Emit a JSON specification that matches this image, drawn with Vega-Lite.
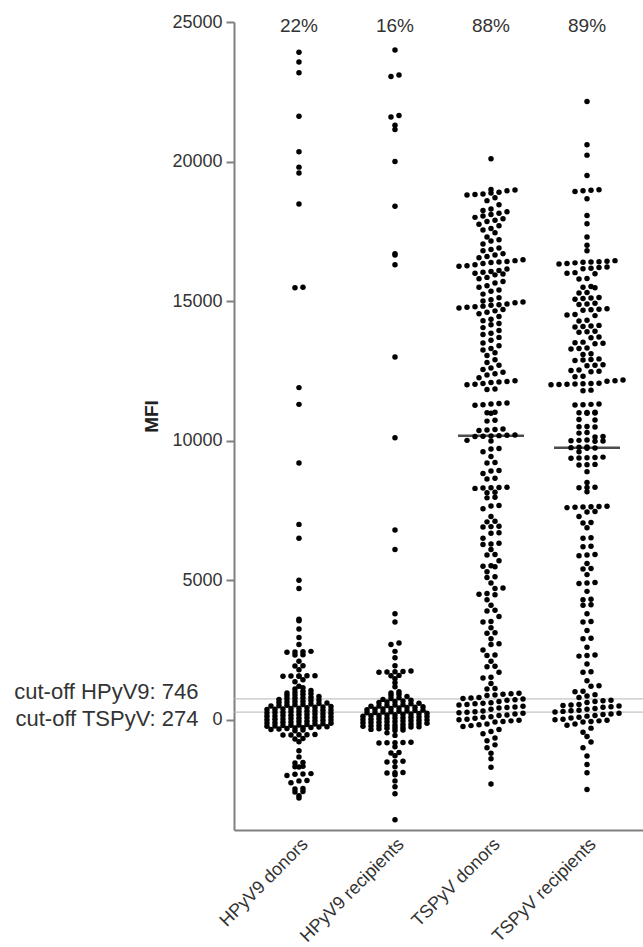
{
"$schema": "https://vega.github.io/schema/vega-lite/v6.json",
"width": 409,
"height": 808,
"autosize": {"type": "none"},
"padding": {"left": 234, "top": 22, "right": 0, "bottom": 117},
"config": {"view": {"stroke": null}, "font": "Liberation Sans", "axis": {"grid": false}},
"datasets": {
"points": [
{"g":"HPyV9 donors","v":23920},{"g":"HPyV9 donors","v":23570},{"g":"HPyV9 donors","v":23180},{"g":"HPyV9 donors","v":21620},{"g":"HPyV9 donors","v":20350},{"g":"HPyV9 donors","v":19800},{"g":"HPyV9 donors","v":19590},{"g":"HPyV9 donors","v":18480},{"g":"HPyV9 donors","v":15500},{"g":"HPyV9 donors","v":15480},{"g":"HPyV9 donors","v":11900},{"g":"HPyV9 donors","v":11300},{"g":"HPyV9 donors","v":9200},{"g":"HPyV9 donors","v":7000},{"g":"HPyV9 donors","v":6500},{"g":"HPyV9 donors","v":5000},{"g":"HPyV9 donors","v":4700},
{"g":"HPyV9 donors","v":3600},{"g":"HPyV9 donors","v":3550},{"g":"HPyV9 donors","v":3250},{"g":"HPyV9 donors","v":2950},{"g":"HPyV9 donors","v":2700},{"g":"HPyV9 donors","v":2450},{"g":"HPyV9 donors","v":2440},{"g":"HPyV9 donors","v":2430},{"g":"HPyV9 donors","v":2420},{"g":"HPyV9 donors","v":2330},{"g":"HPyV9 donors","v":2320},{"g":"HPyV9 donors","v":2100},{"g":"HPyV9 donors","v":1935},{"g":"HPyV9 donors","v":1930},{"g":"HPyV9 donors","v":1790},{"g":"HPyV9 donors","v":1580},{"g":"HPyV9 donors","v":1575},{"g":"HPyV9 donors","v":1570},{"g":"HPyV9 donors","v":1565},{"g":"HPyV9 donors","v":1560},{"g":"HPyV9 donors","v":1555},{"g":"HPyV9 donors","v":1430},{"g":"HPyV9 donors","v":1360},{"g":"HPyV9 donors","v":1200},{"g":"HPyV9 donors","v":1150},{"g":"HPyV9 donors","v":1100},{"g":"HPyV9 donors","v":1050},
{"g":"HPyV9 donors","v":1020},{"g":"HPyV9 donors","v":990},{"g":"HPyV9 donors","v":960},{"g":"HPyV9 donors","v":930},
{"g":"HPyV9 donors","v":910},{"g":"HPyV9 donors","v":885},{"g":"HPyV9 donors","v":860},{"g":"HPyV9 donors","v":835},{"g":"HPyV9 donors","v":810},
{"g":"HPyV9 donors","v":790},{"g":"HPyV9 donors","v":770},{"g":"HPyV9 donors","v":750},{"g":"HPyV9 donors","v":730},{"g":"HPyV9 donors","v":710},{"g":"HPyV9 donors","v":690},
{"g":"HPyV9 donors","v":667},{"g":"HPyV9 donors","v":650},{"g":"HPyV9 donors","v":633},{"g":"HPyV9 donors","v":616},{"g":"HPyV9 donors","v":599},{"g":"HPyV9 donors","v":582},{"g":"HPyV9 donors","v":565},
{"g":"HPyV9 donors","v":550},{"g":"HPyV9 donors","v":535},{"g":"HPyV9 donors","v":520},{"g":"HPyV9 donors","v":505},{"g":"HPyV9 donors","v":490},{"g":"HPyV9 donors","v":475},{"g":"HPyV9 donors","v":460},{"g":"HPyV9 donors","v":445},
{"g":"HPyV9 donors","v":429},{"g":"HPyV9 donors","v":416},{"g":"HPyV9 donors","v":403},{"g":"HPyV9 donors","v":390},{"g":"HPyV9 donors","v":377},{"g":"HPyV9 donors","v":364},{"g":"HPyV9 donors","v":351},{"g":"HPyV9 donors","v":338},{"g":"HPyV9 donors","v":325},
{"g":"HPyV9 donors","v":309},{"g":"HPyV9 donors","v":296},{"g":"HPyV9 donors","v":283},{"g":"HPyV9 donors","v":270},{"g":"HPyV9 donors","v":257},{"g":"HPyV9 donors","v":244},{"g":"HPyV9 donors","v":231},{"g":"HPyV9 donors","v":218},{"g":"HPyV9 donors","v":205},
{"g":"HPyV9 donors","v":189},{"g":"HPyV9 donors","v":176},{"g":"HPyV9 donors","v":163},{"g":"HPyV9 donors","v":150},{"g":"HPyV9 donors","v":137},{"g":"HPyV9 donors","v":124},{"g":"HPyV9 donors","v":111},{"g":"HPyV9 donors","v":98},{"g":"HPyV9 donors","v":85},
{"g":"HPyV9 donors","v":69},{"g":"HPyV9 donors","v":56},{"g":"HPyV9 donors","v":43},{"g":"HPyV9 donors","v":30},{"g":"HPyV9 donors","v":17},{"g":"HPyV9 donors","v":4},{"g":"HPyV9 donors","v":-9},{"g":"HPyV9 donors","v":-22},{"g":"HPyV9 donors","v":-35},
{"g":"HPyV9 donors","v":-51},{"g":"HPyV9 donors","v":-64},{"g":"HPyV9 donors","v":-77},{"g":"HPyV9 donors","v":-90},{"g":"HPyV9 donors","v":-103},{"g":"HPyV9 donors","v":-116},{"g":"HPyV9 donors","v":-129},{"g":"HPyV9 donors","v":-142},{"g":"HPyV9 donors","v":-155},
{"g":"HPyV9 donors","v":-171},{"g":"HPyV9 donors","v":-184},{"g":"HPyV9 donors","v":-197},{"g":"HPyV9 donors","v":-210},{"g":"HPyV9 donors","v":-223},{"g":"HPyV9 donors","v":-236},{"g":"HPyV9 donors","v":-249},{"g":"HPyV9 donors","v":-262},{"g":"HPyV9 donors","v":-275},
{"g":"HPyV9 donors","v":-285},{"g":"HPyV9 donors","v":-295},{"g":"HPyV9 donors","v":-310},{"g":"HPyV9 donors","v":-330},{"g":"HPyV9 donors","v":-350},{"g":"HPyV9 donors","v":-370},{"g":"HPyV9 donors","v":-390},
{"g":"HPyV9 donors","v":-530},{"g":"HPyV9 donors","v":-535},{"g":"HPyV9 donors","v":-540},{"g":"HPyV9 donors","v":-545},{"g":"HPyV9 donors","v":-550},{"g":"HPyV9 donors","v":-670},{"g":"HPyV9 donors","v":-690},{"g":"HPyV9 donors","v":-790},{"g":"HPyV9 donors","v":-1110},{"g":"HPyV9 donors","v":-1330},{"g":"HPyV9 donors","v":-1530},{"g":"HPyV9 donors","v":-1550},{"g":"HPyV9 donors","v":-1670},{"g":"HPyV9 donors","v":-1680},{"g":"HPyV9 donors","v":-1690},{"g":"HPyV9 donors","v":-1930},{"g":"HPyV9 donors","v":-1940},{"g":"HPyV9 donors","v":-1950},{"g":"HPyV9 donors","v":-2000},{"g":"HPyV9 donors","v":-2180},{"g":"HPyV9 donors","v":-2190},{"g":"HPyV9 donors","v":-2260},{"g":"HPyV9 donors","v":-2460},{"g":"HPyV9 donors","v":-2480},{"g":"HPyV9 donors","v":-2570},{"g":"HPyV9 donors","v":-2590},{"g":"HPyV9 donors","v":-2720},{"g":"HPyV9 donors","v":-2800},
{"g":"HPyV9 recipients","v":24000},{"g":"HPyV9 recipients","v":23100},{"g":"HPyV9 recipients","v":23050},{"g":"HPyV9 recipients","v":21650},{"g":"HPyV9 recipients","v":21600},{"g":"HPyV9 recipients","v":21300},{"g":"HPyV9 recipients","v":21150},{"g":"HPyV9 recipients","v":20000},{"g":"HPyV9 recipients","v":18400},{"g":"HPyV9 recipients","v":16700},{"g":"HPyV9 recipients","v":16650},{"g":"HPyV9 recipients","v":16300},{"g":"HPyV9 recipients","v":13000},{"g":"HPyV9 recipients","v":10100},{"g":"HPyV9 recipients","v":6800},{"g":"HPyV9 recipients","v":6100},{"g":"HPyV9 recipients","v":3800},{"g":"HPyV9 recipients","v":3500},
{"g":"HPyV9 recipients","v":2750},{"g":"HPyV9 recipients","v":2700},{"g":"HPyV9 recipients","v":2450},{"g":"HPyV9 recipients","v":2220},{"g":"HPyV9 recipients","v":1935},{"g":"HPyV9 recipients","v":1745},{"g":"HPyV9 recipients","v":1730},{"g":"HPyV9 recipients","v":1720},{"g":"HPyV9 recipients","v":1710},{"g":"HPyV9 recipients","v":1700},{"g":"HPyV9 recipients","v":1590},{"g":"HPyV9 recipients","v":1580},{"g":"HPyV9 recipients","v":1470},{"g":"HPyV9 recipients","v":1330},{"g":"HPyV9 recipients","v":1180},{"g":"HPyV9 recipients","v":1000},
{"g":"HPyV9 recipients","v":960},{"g":"HPyV9 recipients","v":910},{"g":"HPyV9 recipients","v":870},{"g":"HPyV9 recipients","v":830},
{"g":"HPyV9 recipients","v":790},{"g":"HPyV9 recipients","v":760},{"g":"HPyV9 recipients","v":730},{"g":"HPyV9 recipients","v":700},
{"g":"HPyV9 recipients","v":675},{"g":"HPyV9 recipients","v":655},{"g":"HPyV9 recipients","v":635},{"g":"HPyV9 recipients","v":615},{"g":"HPyV9 recipients","v":595},{"g":"HPyV9 recipients","v":575},
{"g":"HPyV9 recipients","v":540},{"g":"HPyV9 recipients","v":525},{"g":"HPyV9 recipients","v":510},{"g":"HPyV9 recipients","v":495},{"g":"HPyV9 recipients","v":480},{"g":"HPyV9 recipients","v":465},{"g":"HPyV9 recipients","v":450},
{"g":"HPyV9 recipients","v":435},{"g":"HPyV9 recipients","v":420},{"g":"HPyV9 recipients","v":405},{"g":"HPyV9 recipients","v":390},{"g":"HPyV9 recipients","v":375},{"g":"HPyV9 recipients","v":360},{"g":"HPyV9 recipients","v":345},{"g":"HPyV9 recipients","v":330},
{"g":"HPyV9 recipients","v":314},{"g":"HPyV9 recipients","v":301},{"g":"HPyV9 recipients","v":288},{"g":"HPyV9 recipients","v":275},{"g":"HPyV9 recipients","v":262},{"g":"HPyV9 recipients","v":249},{"g":"HPyV9 recipients","v":236},{"g":"HPyV9 recipients","v":223},{"g":"HPyV9 recipients","v":210},
{"g":"HPyV9 recipients","v":194},{"g":"HPyV9 recipients","v":181},{"g":"HPyV9 recipients","v":168},{"g":"HPyV9 recipients","v":155},{"g":"HPyV9 recipients","v":142},{"g":"HPyV9 recipients","v":129},{"g":"HPyV9 recipients","v":116},{"g":"HPyV9 recipients","v":103},{"g":"HPyV9 recipients","v":90},
{"g":"HPyV9 recipients","v":74},{"g":"HPyV9 recipients","v":61},{"g":"HPyV9 recipients","v":48},{"g":"HPyV9 recipients","v":35},{"g":"HPyV9 recipients","v":22},{"g":"HPyV9 recipients","v":9},{"g":"HPyV9 recipients","v":-4},{"g":"HPyV9 recipients","v":-17},{"g":"HPyV9 recipients","v":-30},
{"g":"HPyV9 recipients","v":-46},{"g":"HPyV9 recipients","v":-59},{"g":"HPyV9 recipients","v":-72},{"g":"HPyV9 recipients","v":-85},{"g":"HPyV9 recipients","v":-98},{"g":"HPyV9 recipients","v":-111},{"g":"HPyV9 recipients","v":-124},{"g":"HPyV9 recipients","v":-137},{"g":"HPyV9 recipients","v":-150},
{"g":"HPyV9 recipients","v":-171},{"g":"HPyV9 recipients","v":-184},{"g":"HPyV9 recipients","v":-197},{"g":"HPyV9 recipients","v":-210},{"g":"HPyV9 recipients","v":-223},{"g":"HPyV9 recipients","v":-236},{"g":"HPyV9 recipients","v":-249},{"g":"HPyV9 recipients","v":-262},{"g":"HPyV9 recipients","v":-275},
{"g":"HPyV9 recipients","v":-290},{"g":"HPyV9 recipients","v":-305},{"g":"HPyV9 recipients","v":-325},{"g":"HPyV9 recipients","v":-345},{"g":"HPyV9 recipients","v":-365},{"g":"HPyV9 recipients","v":-385},
{"g":"HPyV9 recipients","v":-470},{"g":"HPyV9 recipients","v":-560},{"g":"HPyV9 recipients","v":-810},{"g":"HPyV9 recipients","v":-815},{"g":"HPyV9 recipients","v":-820},{"g":"HPyV9 recipients","v":-825},{"g":"HPyV9 recipients","v":-830},{"g":"HPyV9 recipients","v":-970},{"g":"HPyV9 recipients","v":-1170},{"g":"HPyV9 recipients","v":-1190},{"g":"HPyV9 recipients","v":-1290},{"g":"HPyV9 recipients","v":-1490},{"g":"HPyV9 recipients","v":-1500},{"g":"HPyV9 recipients","v":-1510},{"g":"HPyV9 recipients","v":-1680},{"g":"HPyV9 recipients","v":-1890},{"g":"HPyV9 recipients","v":-1900},{"g":"HPyV9 recipients","v":-1910},{"g":"HPyV9 recipients","v":-1970},{"g":"HPyV9 recipients","v":-2190},{"g":"HPyV9 recipients","v":-2400},{"g":"HPyV9 recipients","v":-2650},{"g":"HPyV9 recipients","v":-3580},
{"g":"TSPyV donors","v":20100},
{"g":"TSPyV donors","v":19000},{"g":"TSPyV donors","v":18980},{"g":"TSPyV donors","v":18950},{"g":"TSPyV donors","v":18900},{"g":"TSPyV donors","v":18870},{"g":"TSPyV donors","v":18840},{"g":"TSPyV donors","v":18820},{"g":"TSPyV donors","v":18800},
{"g":"TSPyV donors","v":18700},{"g":"TSPyV donors","v":18600},{"g":"TSPyV donors","v":18450},{"g":"TSPyV donors","v":18300},{"g":"TSPyV donors","v":18250},{"g":"TSPyV donors","v":18200},
{"g":"TSPyV donors","v":18150},{"g":"TSPyV donors","v":18100},{"g":"TSPyV donors","v":18050},{"g":"TSPyV donors","v":18000},{"g":"TSPyV donors","v":17950},{"g":"TSPyV donors","v":17900},{"g":"TSPyV donors","v":17850},
{"g":"TSPyV donors","v":17750},{"g":"TSPyV donors","v":17700},{"g":"TSPyV donors","v":17600},{"g":"TSPyV donors","v":17550},{"g":"TSPyV donors","v":17450},{"g":"TSPyV donors","v":17300},{"g":"TSPyV donors","v":17200},{"g":"TSPyV donors","v":17150},{"g":"TSPyV donors","v":17050},
{"g":"TSPyV donors","v":16900},{"g":"TSPyV donors","v":16850},{"g":"TSPyV donors","v":16800},{"g":"TSPyV donors","v":16700},{"g":"TSPyV donors","v":16650},{"g":"TSPyV donors","v":16600},{"g":"TSPyV donors","v":16550},
{"g":"TSPyV donors","v":16480},{"g":"TSPyV donors","v":16450},{"g":"TSPyV donors","v":16420},{"g":"TSPyV donors","v":16400},{"g":"TSPyV donors","v":16380},{"g":"TSPyV donors","v":16350},{"g":"TSPyV donors","v":16300},{"g":"TSPyV donors","v":16270},{"g":"TSPyV donors","v":16250},
{"g":"TSPyV donors","v":16150},{"g":"TSPyV donors","v":16100},{"g":"TSPyV donors","v":16060},{"g":"TSPyV donors","v":16030},{"g":"TSPyV donors","v":16000},{"g":"TSPyV donors","v":15970},{"g":"TSPyV donors","v":15940},
{"g":"TSPyV donors","v":15850},{"g":"TSPyV donors","v":15800},{"g":"TSPyV donors","v":15700},{"g":"TSPyV donors","v":15650},{"g":"TSPyV donors","v":15550},{"g":"TSPyV donors","v":15500},{"g":"TSPyV donors","v":15400},{"g":"TSPyV donors","v":15350},{"g":"TSPyV donors","v":15250},{"g":"TSPyV donors","v":15120},{"g":"TSPyV donors","v":15050},
{"g":"TSPyV donors","v":15000},{"g":"TSPyV donors","v":14970},{"g":"TSPyV donors","v":14940},{"g":"TSPyV donors","v":14900},{"g":"TSPyV donors","v":14870},{"g":"TSPyV donors","v":14850},{"g":"TSPyV donors","v":14820},{"g":"TSPyV donors","v":14800},{"g":"TSPyV donors","v":14780},{"g":"TSPyV donors","v":14750},
{"g":"TSPyV donors","v":14700},{"g":"TSPyV donors","v":14650},{"g":"TSPyV donors","v":14600},{"g":"TSPyV donors","v":14550},{"g":"TSPyV donors","v":14450},{"g":"TSPyV donors","v":14350},{"g":"TSPyV donors","v":14300},
{"g":"TSPyV donors","v":14200},{"g":"TSPyV donors","v":14150},{"g":"TSPyV donors","v":14050},{"g":"TSPyV donors","v":13950},{"g":"TSPyV donors","v":13850},{"g":"TSPyV donors","v":13800},
{"g":"TSPyV donors","v":13700},{"g":"TSPyV donors","v":13600},{"g":"TSPyV donors","v":13500},{"g":"TSPyV donors","v":13400},{"g":"TSPyV donors","v":13300},{"g":"TSPyV donors","v":13250},{"g":"TSPyV donors","v":13150},{"g":"TSPyV donors","v":13050},
{"g":"TSPyV donors","v":12900},{"g":"TSPyV donors","v":12800},{"g":"TSPyV donors","v":12700},{"g":"TSPyV donors","v":12600},{"g":"TSPyV donors","v":12550},{"g":"TSPyV donors","v":12450},{"g":"TSPyV donors","v":12400},{"g":"TSPyV donors","v":12350},{"g":"TSPyV donors","v":12250},
{"g":"TSPyV donors","v":12150},{"g":"TSPyV donors","v":12120},{"g":"TSPyV donors","v":12100},{"g":"TSPyV donors","v":12080},{"g":"TSPyV donors","v":12050},{"g":"TSPyV donors","v":12020},{"g":"TSPyV donors","v":12000},
{"g":"TSPyV donors","v":11850},{"g":"TSPyV donors","v":11830},
{"g":"TSPyV donors","v":11350},{"g":"TSPyV donors","v":11330},{"g":"TSPyV donors","v":11310},{"g":"TSPyV donors","v":11290},{"g":"TSPyV donors","v":11270},
{"g":"TSPyV donors","v":11020},{"g":"TSPyV donors","v":11000},{"g":"TSPyV donors","v":10980},
{"g":"TSPyV donors","v":10730},{"g":"TSPyV donors","v":10700},
{"g":"TSPyV donors","v":10420},{"g":"TSPyV donors","v":10400},{"g":"TSPyV donors","v":10380},{"g":"TSPyV donors","v":10360},
{"g":"TSPyV donors","v":10200},{"g":"TSPyV donors","v":10190},{"g":"TSPyV donors","v":10180},{"g":"TSPyV donors","v":10170},{"g":"TSPyV donors","v":10160},{"g":"TSPyV donors","v":10150},
{"g":"TSPyV donors","v":10010},{"g":"TSPyV donors","v":9990},
{"g":"TSPyV donors","v":9720},{"g":"TSPyV donors","v":9700},{"g":"TSPyV donors","v":9600},{"g":"TSPyV donors","v":9430},
{"g":"TSPyV donors","v":9220},{"g":"TSPyV donors","v":9200},{"g":"TSPyV donors","v":8930},{"g":"TSPyV donors","v":8910},{"g":"TSPyV donors","v":8820},
{"g":"TSPyV donors","v":8650},{"g":"TSPyV donors","v":8630},
{"g":"TSPyV donors","v":8330},{"g":"TSPyV donors","v":8320},{"g":"TSPyV donors","v":8310},{"g":"TSPyV donors","v":8300},{"g":"TSPyV donors","v":8290},
{"g":"TSPyV donors","v":8150},{"g":"TSPyV donors","v":8130},{"g":"TSPyV donors","v":7970},{"g":"TSPyV donors","v":7950},
{"g":"TSPyV donors","v":7680},{"g":"TSPyV donors","v":7660},{"g":"TSPyV donors","v":7560},{"g":"TSPyV donors","v":7280},
{"g":"TSPyV donors","v":7110},{"g":"TSPyV donors","v":7090},{"g":"TSPyV donors","v":6930},{"g":"TSPyV donors","v":6920},{"g":"TSPyV donors","v":6910},
{"g":"TSPyV donors","v":6700},{"g":"TSPyV donors","v":6680},{"g":"TSPyV donors","v":6500},{"g":"TSPyV donors","v":6320},{"g":"TSPyV donors","v":6300},{"g":"TSPyV donors","v":6280},{"g":"TSPyV donors","v":6100},
{"g":"TSPyV donors","v":5920},{"g":"TSPyV donors","v":5900},{"g":"TSPyV donors","v":5700},{"g":"TSPyV donors","v":5520},{"g":"TSPyV donors","v":5500},{"g":"TSPyV donors","v":5480},{"g":"TSPyV donors","v":5300},{"g":"TSPyV donors","v":5120},{"g":"TSPyV donors","v":5100},
{"g":"TSPyV donors","v":4900},{"g":"TSPyV donors","v":4720},{"g":"TSPyV donors","v":4700},{"g":"TSPyV donors","v":4520},{"g":"TSPyV donors","v":4500},{"g":"TSPyV donors","v":4480},{"g":"TSPyV donors","v":4300},{"g":"TSPyV donors","v":4100},
{"g":"TSPyV donors","v":3920},{"g":"TSPyV donors","v":3900},{"g":"TSPyV donors","v":3700},{"g":"TSPyV donors","v":3520},{"g":"TSPyV donors","v":3500},{"g":"TSPyV donors","v":3300},{"g":"TSPyV donors","v":3120},{"g":"TSPyV donors","v":3100},
{"g":"TSPyV donors","v":2900},{"g":"TSPyV donors","v":2720},{"g":"TSPyV donors","v":2700},{"g":"TSPyV donors","v":2500},{"g":"TSPyV donors","v":2320},{"g":"TSPyV donors","v":2300},{"g":"TSPyV donors","v":2100},
{"g":"TSPyV donors","v":1920},{"g":"TSPyV donors","v":1900},{"g":"TSPyV donors","v":1700},{"g":"TSPyV donors","v":1520},{"g":"TSPyV donors","v":1500},{"g":"TSPyV donors","v":1300},{"g":"TSPyV donors","v":1120},{"g":"TSPyV donors","v":1100},
{"g":"TSPyV donors","v":950},{"g":"TSPyV donors","v":930},{"g":"TSPyV donors","v":910},{"g":"TSPyV donors","v":890},{"g":"TSPyV donors","v":870},
{"g":"TSPyV donors","v":800},{"g":"TSPyV donors","v":780},{"g":"TSPyV donors","v":760},{"g":"TSPyV donors","v":740},{"g":"TSPyV donors","v":720},{"g":"TSPyV donors","v":700},
{"g":"TSPyV donors","v":650},{"g":"TSPyV donors","v":610},{"g":"TSPyV donors","v":590},{"g":"TSPyV donors","v":570},{"g":"TSPyV donors","v":550},{"g":"TSPyV donors","v":530},
{"g":"TSPyV donors","v":480},{"g":"TSPyV donors","v":460},{"g":"TSPyV donors","v":440},{"g":"TSPyV donors","v":420},{"g":"TSPyV donors","v":380},
{"g":"TSPyV donors","v":310},{"g":"TSPyV donors","v":290},{"g":"TSPyV donors","v":270},{"g":"TSPyV donors","v":250},{"g":"TSPyV donors","v":230},{"g":"TSPyV donors","v":210},
{"g":"TSPyV donors","v":170},{"g":"TSPyV donors","v":150},{"g":"TSPyV donors","v":110},{"g":"TSPyV donors","v":90},{"g":"TSPyV donors","v":50},
{"g":"TSPyV donors","v":20},{"g":"TSPyV donors","v":0},{"g":"TSPyV donors","v":-20},{"g":"TSPyV donors","v":-40},{"g":"TSPyV donors","v":-60},{"g":"TSPyV donors","v":-80},
{"g":"TSPyV donors","v":-150},{"g":"TSPyV donors","v":-180},{"g":"TSPyV donors","v":-210},{"g":"TSPyV donors","v":-240},
{"g":"TSPyV donors","v":-350},{"g":"TSPyV donors","v":-420},{"g":"TSPyV donors","v":-500},{"g":"TSPyV donors","v":-650},{"g":"TSPyV donors","v":-750},{"g":"TSPyV donors","v":-900},{"g":"TSPyV donors","v":-1000},
{"g":"TSPyV donors","v":-1200},{"g":"TSPyV donors","v":-1400},{"g":"TSPyV donors","v":-1700},{"g":"TSPyV donors","v":-2300},
{"g":"TSPyV recipients","v":22150},{"g":"TSPyV recipients","v":20600},{"g":"TSPyV recipients","v":20230},{"g":"TSPyV recipients","v":19500},
{"g":"TSPyV recipients","v":18990},{"g":"TSPyV recipients","v":18970},{"g":"TSPyV recipients","v":18950},{"g":"TSPyV recipients","v":18930},
{"g":"TSPyV recipients","v":18670},{"g":"TSPyV recipients","v":18070},{"g":"TSPyV recipients","v":17770},
{"g":"TSPyV recipients","v":17300},{"g":"TSPyV recipients","v":17000},{"g":"TSPyV recipients","v":16800},
{"g":"TSPyV recipients","v":16450},{"g":"TSPyV recipients","v":16430},{"g":"TSPyV recipients","v":16410},{"g":"TSPyV recipients","v":16400},{"g":"TSPyV recipients","v":16390},{"g":"TSPyV recipients","v":16370},{"g":"TSPyV recipients","v":16350},{"g":"TSPyV recipients","v":16330},
{"g":"TSPyV recipients","v":16220},{"g":"TSPyV recipients","v":16200},{"g":"TSPyV recipients","v":16180},{"g":"TSPyV recipients","v":16160},
{"g":"TSPyV recipients","v":16020},{"g":"TSPyV recipients","v":16000},{"g":"TSPyV recipients","v":15980},
{"g":"TSPyV recipients","v":15810},{"g":"TSPyV recipients","v":15790},
{"g":"TSPyV recipients","v":15520},{"g":"TSPyV recipients","v":15500},{"g":"TSPyV recipients","v":15480},
{"g":"TSPyV recipients","v":15310},{"g":"TSPyV recipients","v":15290},
{"g":"TSPyV recipients","v":15130},{"g":"TSPyV recipients","v":15110},{"g":"TSPyV recipients","v":15090},{"g":"TSPyV recipients","v":15070},
{"g":"TSPyV recipients","v":14920},{"g":"TSPyV recipients","v":14900},{"g":"TSPyV recipients","v":14880},
{"g":"TSPyV recipients","v":14730},{"g":"TSPyV recipients","v":14710},{"g":"TSPyV recipients","v":14690},{"g":"TSPyV recipients","v":14670},
{"g":"TSPyV recipients","v":14520},{"g":"TSPyV recipients","v":14500},{"g":"TSPyV recipients","v":14480},
{"g":"TSPyV recipients","v":14310},{"g":"TSPyV recipients","v":14290},
{"g":"TSPyV recipients","v":14130},{"g":"TSPyV recipients","v":14110},{"g":"TSPyV recipients","v":14090},{"g":"TSPyV recipients","v":14070},
{"g":"TSPyV recipients","v":13920},{"g":"TSPyV recipients","v":13900},{"g":"TSPyV recipients","v":13880},
{"g":"TSPyV recipients","v":13710},{"g":"TSPyV recipients","v":13690},
{"g":"TSPyV recipients","v":13530},{"g":"TSPyV recipients","v":13510},{"g":"TSPyV recipients","v":13490},{"g":"TSPyV recipients","v":13470},
{"g":"TSPyV recipients","v":13320},{"g":"TSPyV recipients","v":13300},{"g":"TSPyV recipients","v":13280},
{"g":"TSPyV recipients","v":13110},{"g":"TSPyV recipients","v":13090},
{"g":"TSPyV recipients","v":12930},{"g":"TSPyV recipients","v":12910},{"g":"TSPyV recipients","v":12890},{"g":"TSPyV recipients","v":12870},
{"g":"TSPyV recipients","v":12720},{"g":"TSPyV recipients","v":12700},{"g":"TSPyV recipients","v":12680},
{"g":"TSPyV recipients","v":12530},{"g":"TSPyV recipients","v":12510},{"g":"TSPyV recipients","v":12490},{"g":"TSPyV recipients","v":12470},
{"g":"TSPyV recipients","v":12310},{"g":"TSPyV recipients","v":12290},
{"g":"TSPyV recipients","v":12170},{"g":"TSPyV recipients","v":12150},{"g":"TSPyV recipients","v":12130},
{"g":"TSPyV recipients","v":12060},{"g":"TSPyV recipients","v":12050},{"g":"TSPyV recipients","v":12040},{"g":"TSPyV recipients","v":12030},{"g":"TSPyV recipients","v":12020},{"g":"TSPyV recipients","v":12010},{"g":"TSPyV recipients","v":12000},
{"g":"TSPyV recipients","v":11810},{"g":"TSPyV recipients","v":11790},
{"g":"TSPyV recipients","v":11310},{"g":"TSPyV recipients","v":11300},{"g":"TSPyV recipients","v":11290},{"g":"TSPyV recipients","v":11280},
{"g":"TSPyV recipients","v":11020},{"g":"TSPyV recipients","v":11010},{"g":"TSPyV recipients","v":11000},{"g":"TSPyV recipients","v":10990},{"g":"TSPyV recipients","v":10980},
{"g":"TSPyV recipients","v":10760},{"g":"TSPyV recipients","v":10740},
{"g":"TSPyV recipients","v":10510},{"g":"TSPyV recipients","v":10500},{"g":"TSPyV recipients","v":10490},
{"g":"TSPyV recipients","v":10290},{"g":"TSPyV recipients","v":10270},
{"g":"TSPyV recipients","v":10150},{"g":"TSPyV recipients","v":10130},
{"g":"TSPyV recipients","v":10020},{"g":"TSPyV recipients","v":10010},{"g":"TSPyV recipients","v":10000},{"g":"TSPyV recipients","v":9990},{"g":"TSPyV recipients","v":9980},
{"g":"TSPyV recipients","v":9770},{"g":"TSPyV recipients","v":9760},{"g":"TSPyV recipients","v":9750},{"g":"TSPyV recipients","v":9740},{"g":"TSPyV recipients","v":9730},
{"g":"TSPyV recipients","v":9600},
{"g":"TSPyV recipients","v":9410},{"g":"TSPyV recipients","v":9400},{"g":"TSPyV recipients","v":9390},{"g":"TSPyV recipients","v":9380},{"g":"TSPyV recipients","v":9370},
{"g":"TSPyV recipients","v":9150},{"g":"TSPyV recipients","v":9140},{"g":"TSPyV recipients","v":9130},
{"g":"TSPyV recipients","v":8890},{"g":"TSPyV recipients","v":8500},
{"g":"TSPyV recipients","v":8330},{"g":"TSPyV recipients","v":8320},{"g":"TSPyV recipients","v":8310},{"g":"TSPyV recipients","v":8170},
{"g":"TSPyV recipients","v":7650},{"g":"TSPyV recipients","v":7640},{"g":"TSPyV recipients","v":7630},{"g":"TSPyV recipients","v":7620},{"g":"TSPyV recipients","v":7610},{"g":"TSPyV recipients","v":7600},
{"g":"TSPyV recipients","v":7460},{"g":"TSPyV recipients","v":7440},{"g":"TSPyV recipients","v":7280},{"g":"TSPyV recipients","v":7070},{"g":"TSPyV recipients","v":7050},{"g":"TSPyV recipients","v":6880},
{"g":"TSPyV recipients","v":6520},{"g":"TSPyV recipients","v":6500},{"g":"TSPyV recipients","v":6220},{"g":"TSPyV recipients","v":6200},
{"g":"TSPyV recipients","v":5920},{"g":"TSPyV recipients","v":5900},{"g":"TSPyV recipients","v":5880},{"g":"TSPyV recipients","v":5600},{"g":"TSPyV recipients","v":5420},{"g":"TSPyV recipients","v":5400},{"g":"TSPyV recipients","v":5200},
{"g":"TSPyV recipients","v":4920},{"g":"TSPyV recipients","v":4900},{"g":"TSPyV recipients","v":4880},{"g":"TSPyV recipients","v":4600},{"g":"TSPyV recipients","v":4320},{"g":"TSPyV recipients","v":4300},{"g":"TSPyV recipients","v":4120},{"g":"TSPyV recipients","v":4100},
{"g":"TSPyV recipients","v":3800},{"g":"TSPyV recipients","v":3520},{"g":"TSPyV recipients","v":3500},{"g":"TSPyV recipients","v":3200},{"g":"TSPyV recipients","v":2920},{"g":"TSPyV recipients","v":2900},{"g":"TSPyV recipients","v":2600},
{"g":"TSPyV recipients","v":2320},{"g":"TSPyV recipients","v":2300},{"g":"TSPyV recipients","v":2280},{"g":"TSPyV recipients","v":2000},{"g":"TSPyV recipients","v":1720},{"g":"TSPyV recipients","v":1700},{"g":"TSPyV recipients","v":1400},{"g":"TSPyV recipients","v":1220},{"g":"TSPyV recipients","v":1200},{"g":"TSPyV recipients","v":1020},{"g":"TSPyV recipients","v":1000},
{"g":"TSPyV recipients","v":900},{"g":"TSPyV recipients","v":850},{"g":"TSPyV recipients","v":800},
{"g":"TSPyV recipients","v":700},{"g":"TSPyV recipients","v":680},{"g":"TSPyV recipients","v":650},{"g":"TSPyV recipients","v":620},
{"g":"TSPyV recipients","v":550},{"g":"TSPyV recipients","v":530},{"g":"TSPyV recipients","v":510},{"g":"TSPyV recipients","v":490},{"g":"TSPyV recipients","v":470},{"g":"TSPyV recipients","v":450},
{"g":"TSPyV recipients","v":400},{"g":"TSPyV recipients","v":380},{"g":"TSPyV recipients","v":340},{"g":"TSPyV recipients","v":320},{"g":"TSPyV recipients","v":300},{"g":"TSPyV recipients","v":280},
{"g":"TSPyV recipients","v":230},{"g":"TSPyV recipients","v":210},{"g":"TSPyV recipients","v":190},{"g":"TSPyV recipients","v":150},{"g":"TSPyV recipients","v":130},{"g":"TSPyV recipients","v":90},
{"g":"TSPyV recipients","v":60},{"g":"TSPyV recipients","v":20},{"g":"TSPyV recipients","v":0},{"g":"TSPyV recipients","v":-20},{"g":"TSPyV recipients","v":-40},{"g":"TSPyV recipients","v":-60},{"g":"TSPyV recipients","v":-80},
{"g":"TSPyV recipients","v":-150},{"g":"TSPyV recipients","v":-200},{"g":"TSPyV recipients","v":-300},{"g":"TSPyV recipients","v":-450},{"g":"TSPyV recipients","v":-600},
{"g":"TSPyV recipients","v":-800},{"g":"TSPyV recipients","v":-1000},{"g":"TSPyV recipients","v":-1300},{"g":"TSPyV recipients","v":-1600},{"g":"TSPyV recipients","v":-1900},{"g":"TSPyV recipients","v":-2500}
],
"pct": [
{"g":"HPyV9 donors","pct":"22%","top":25000},{"g":"HPyV9 recipients","pct":"16%","top":25000},{"g":"TSPyV donors","pct":"88%","top":25000},{"g":"TSPyV recipients","pct":"89%","top":25000}
],
"medians": [
{"g":"TSPyV donors","median":10180},{"g":"TSPyV recipients","median":9750}
],
"cutoffs": [
{"virus":"HPyV9","cutoff":746},{"virus":"TSPyV","cutoff":274}
]
},
"resolve": {"axis": {"y": "independent"}, "scale": {"xOffset": "independent"}},
"layer": [
{
"data": {"name": "cutoffs"},
"mark": {"type": "rule", "color": "#b5b5b5", "strokeWidth": 1},
"encoding": {
"y": {"field": "cutoff", "type": "quantitative",
"scale": {"domain": [-3950, 25000], "nice": false, "zero": false},
"axis": {"orient": "left", "values": [746, 274], "title": null, "domain": false, "ticks": false, "grid": false,
"labelExpr": "datum.value == 746 ? 'cut-off HPyV9: 746' : 'cut-off TSPyV: 274'",
"labelPadding": 36, "labelFontSize": 22, "labelLimit": 400, "labelColor": "#333333", "labelBaseline": "middle",
"labelOffset": {"condition": {"test": "datum.value == 746", "value": -7}, "value": 6}}}
}
},
{
"data": {"name": "points"},
"transform": [
{"filter": {"field": "g", "oneOf": ["HPyV9 donors", "HPyV9 recipients"]}},
{"bin": {"step": 120, "anchor": 0, "extent": [-4080, 25080]}, "field": "v", "as": "vbin"},
{"window": [{"op": "count", "as": "one"}], "frame": [0, 0]},
{"stack": "one", "groupby": ["g", "vbin"], "sort": [{"field": "v", "order": "ascending"}], "offset": "center", "as": ["s0", "s1"]}
],
"mark": {"type": "circle", "size": 30, "color": "black", "opacity": 1},
"encoding": {
"x": {"field": "g", "type": "nominal", "sort": ["HPyV9 donors", "HPyV9 recipients", "TSPyV donors", "TSPyV recipients"],
"scale": {"type": "band", "paddingInner": 0, "paddingOuter": 0.13, "align": 0.68},
"axis": {"title": null, "labelAngle": -45, "labelFontSize": 18, "labelLimit": 400, "labelColor": "#333333", "ticks": false, "domainColor": "#808080", "domainWidth": 2, "labelPadding": 5}},
"xOffset": {"field": "s0", "type": "quantitative", "scale": {"range": [16, 80], "nice": false, "zero": false}},
"y": {"field": "v", "type": "quantitative",
"scale": {"domain": [-3950, 25000], "nice": false, "zero": false},
"axis": {"orient": "left", "values": [0, 5000, 10000, 15000, 20000, 25000], "format": "d", "title": "MFI",
"titleFontSize": 19, "titleFontWeight": "bold", "titleColor": "#222222", "titlePadding": 10, "titleY": 394,
"labelFontSize": 18, "labelColor": "#333333", "labelPadding": 4,
"tickSize": 8, "tickColor": "#808080", "tickWidth": 2, "domainColor": "#808080", "domainWidth": 2}}
}
},
{
"data": {"name": "points"},
"transform": [
{"filter": {"field": "g", "oneOf": ["TSPyV donors", "TSPyV recipients"]}},
{"bin": {"step": 250, "anchor": 0, "extent": [-4000, 25000]}, "field": "v", "as": "vbin"},
{"window": [{"op": "count", "as": "one"}], "frame": [0, 0]},
{"stack": "one", "groupby": ["g", "vbin"], "sort": [{"field": "v", "order": "ascending"}], "offset": "center", "as": ["s0", "s1"]}
],
"mark": {"type": "circle", "size": 30, "color": "black", "opacity": 1},
"encoding": {
"x": {"field": "g", "type": "nominal", "sort": ["HPyV9 donors", "HPyV9 recipients", "TSPyV donors", "TSPyV recipients"]},
"xOffset": {"field": "s0", "type": "quantitative", "scale": {"range": [12, 84], "nice": false, "zero": false}},
"y": {"field": "v", "type": "quantitative", "scale": {"domain": [-3950, 25000], "nice": false, "zero": false}, "axis": null}
}
},
{
"data": {"name": "medians"},
"mark": {"type": "tick", "color": "black", "thickness": 2.5, "size": 66},
"encoding": {
"x": {"field": "g", "type": "nominal", "sort": ["HPyV9 donors", "HPyV9 recipients", "TSPyV donors", "TSPyV recipients"]},
"y": {"field": "median", "type": "quantitative", "scale": {"domain": [-3950, 25000], "nice": false, "zero": false}, "axis": null}
}
},
{
"data": {"name": "pct"},
"mark": {"type": "text", "fontSize": 19, "color": "#333333", "baseline": "middle", "dy": 4},
"encoding": {
"x": {"field": "g", "type": "nominal", "sort": ["HPyV9 donors", "HPyV9 recipients", "TSPyV donors", "TSPyV recipients"]},
"y": {"field": "top", "type": "quantitative", "scale": {"domain": [-3950, 25000], "nice": false, "zero": false}, "axis": null},
"text": {"field": "pct"}
}
}
]
}
